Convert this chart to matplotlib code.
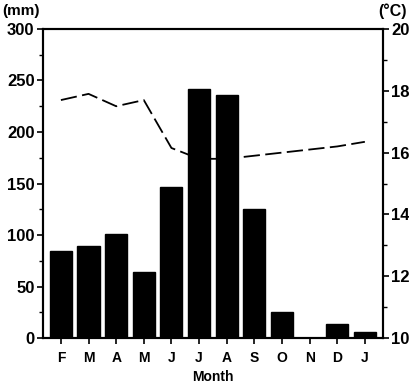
import matplotlib
matplotlib.use("Agg")
import matplotlib.pyplot as plt
import numpy as np
from matplotlib.ticker import MultipleLocator

months = ["F", "M", "A", "M", "J", "J", "A", "S", "O", "N", "D", "J"]
rain_mm = [85, 89, 101, 64, 147, 242, 236, 125, 25, 0, 14, 6]
temp_c = [17.7, 17.9, 17.5, 17.7, 16.15, 15.8, 15.8, 15.9, 16.0, 16.1, 16.2, 16.35]

plt.rcParams["font.family"] = ["Liberation Sans", "DejaVu Sans"]
plt.rcParams["font.weight"] = "bold"

fig = plt.figure(figsize=(4.09, 3.86), dpi=100)
ax = fig.add_axes([0.105, 0.124, 0.831, 0.801])
ax2 = ax.twinx()

x = np.arange(len(months))

# temperature line sits behind the bars
ax2.plot(x, temp_c, color="black", lw=1.3, dashes=(9, 3))
ax2.set_ylim(10, 20)
ax2.set_zorder(1)
ax.set_zorder(2)
ax.patch.set_visible(False)

ax.bar(x, rain_mm, width=0.8, color="black", edgecolor="black")
ax.set_ylim(0, 300)
ax.set_xlim(-0.65, len(months) - 0.35)

ax.set_xticks(x)
ax.set_xticklabels(months, fontsize=9, fontweight="bold")
ax.yaxis.set_major_locator(MultipleLocator(50))
ax.yaxis.set_minor_locator(MultipleLocator(25))
ax2.yaxis.set_major_locator(MultipleLocator(2))
ax2.yaxis.set_minor_locator(MultipleLocator(1))

for a in (ax, ax2):
    for s in a.spines.values():
        s.set_linewidth(1.5)
    a.tick_params(which="major", length=4, width=1.2, labelsize=12, pad=2)
    a.tick_params(which="minor", length=3, width=1.0)
ax.tick_params(axis="x", length=4, pad=5, labelsize=10)

ax.set_xlabel("Month", fontsize=10, fontweight="bold", labelpad=4)
fig.text(0.005, 0.99, "(mm)", fontsize=11, fontweight="bold", va="top")
fig.text(0.995, 0.99, "(\u00b0C)", fontsize=11.5, fontweight="bold", va="top", ha="right")

fig.savefig("out.png", dpi=100)
